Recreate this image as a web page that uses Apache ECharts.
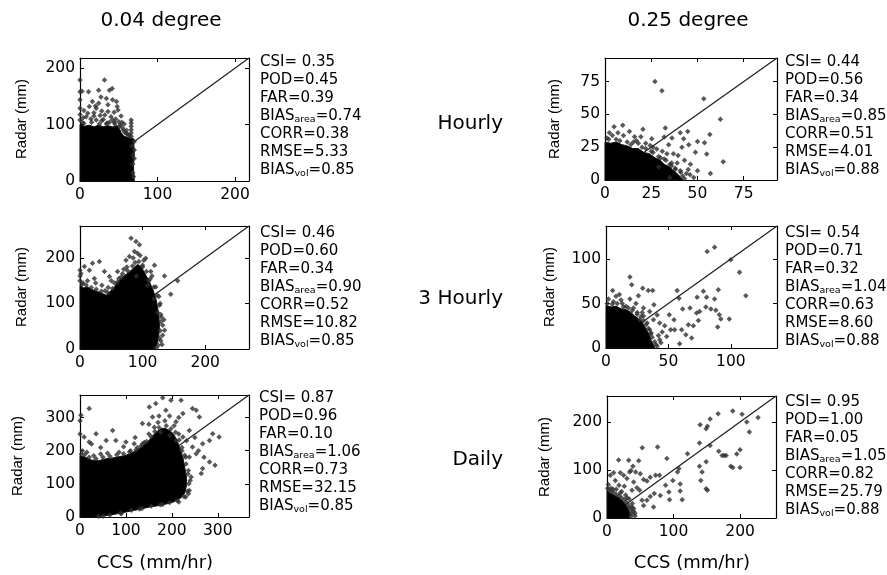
<!DOCTYPE html>
<html><head><meta charset="utf-8">
<script src="https://cdn.jsdelivr.net/npm/echarts@6/dist/echarts.min.js"></script>
<style>html,body{margin:0;padding:0;background:#fff}#c{width:887px;height:575px}</style>
</head><body><div id="c"></div><script>
// ---------- data ----------
const colTitles = ['0.04 degree', '0.25 degree'];
const rowLabels = ['Hourly', '3 Hourly', 'Daily'];
const yAxisTitle = 'Radar (mm)';
const xAxisTitle = 'CCS (mm/hr)';
const statNames = ['CSI', 'POD', 'FAR', 'BIAS_area', 'CORR', 'RMSE', 'BIAS_vol'];

const axisMax = [218, 93, 270, 137, 368, 254];
const tickStep = [100, 25, 100, 50, 100, 100];

const statsP1 = ['0.35', '0.45', '0.39', '0.74', '0.38', '5.33', '0.85'];
const statsP2 = ['0.44', '0.56', '0.34', '0.85', '0.51', '4.01', '0.88'];
const statsP3 = ['0.46', '0.60', '0.34', '0.90', '0.52', '10.82', '0.85'];
const statsP4 = ['0.54', '0.71', '0.32', '1.04', '0.63', '8.60', '0.88'];
const statsP5 = ['0.87', '0.96', '0.10', '1.06', '0.73', '32.15', '0.85'];
const statsP6 = ['0.95', '1.00', '0.05', '1.05', '0.82', '25.79', '0.88'];

// dense (saturated) clouds of points, outlined as [CCS, Radar]
const denseP1 = [[0,0],[0,100],[6,97],[12,99],[18,96],[24,99],[30,96],[36,98],[42,96],[48,98],[51,92],[53,86],[56,80],[60,78],[64,76],[69,75],[70,50],[69,25],[70,0]];
const denseP2 = [[0,0],[0,29],[3,28],[6,29],[9,27],[12,26],[15,24],[18,24],[21,21],[24,20],[27,17],[30,15],[32,12],[35,10],[37,7],[39,5],[41,2],[42,0]];
const denseP3 = [[0,0],[0,140],[6,134],[12,136],[20,130],[28,126],[36,122],[42,118],[48,126],[55,136],[62,150],[70,160],[78,168],[86,178],[92,186],[98,180],[104,165],[110,150],[116,132],[121,112],[124,92],[126,72],[127,52],[126,32],[124,14],[120,0]];
const denseP4 = [[0,0],[0,48],[4,46],[8,47],[12,44],[16,43],[20,40],[23,36],[26,33],[29,29],[31,24],[33,19],[35,14],[36,9],[38,4],[39,0]];
const denseP5 = [[0,0],[0,185],[12,180],[24,172],[40,170],[55,175],[70,178],[85,182],[100,186],[115,195],[129,206],[140,218],[151,232],[160,248],[168,258],[176,266],[184,268],[194,262],[204,250],[212,228],[218,205],[224,180],[228,150],[232,120],[232,95],[228,72],[220,58],[205,46],[190,40],[170,34],[151,30],[125,22],[100,15],[75,8],[50,3],[30,0]];
const denseP6 = [[0,0],[0,58],[4,52],[8,50],[12,46],[16,44],[20,40],[24,35],[28,28],[31,22],[33,15],[35,8],[34,0]];

// individual points [CCS, Radar]
const pointsP1 = [[0,179],[0,158],[0,144],[0,129],[0,118],[0,108],[2.6,159],[5,125],[8,114],[11,158],[12,132],[14,110],[16,141],[18,121],[20,133],[21,129],[21,108],[24,161],[26,116],[27,149],[28,124],[30,109],[31.6,179],[32,117],[34,146],[36,135],[38,161],[38,104],[40,114],[41.5,164],[42,144],[44,122],[46,110],[47,141],[49,126],[50,105],[51,97],[53,115],[55,94],[57,101],[58,86],[60,90],[62,82],[66,108],[66,103],[66,97],[66,91],[66,85],[66,79],[67,62],[68,46],[68,30],[68,14],[44,104],[36,123],[24,138],[10,120],[3,104],[48,132],[34,101],[5,102],[15,104],[25,101],[35,103],[45,101],[52,99],[56,90],[60,84],[64,80],[70,70],[70,55],[70,40],[69,8],[4,112],[28,107],[18,115],[42,108],[54,104]];
const pointsP2 = [[27,75],[30.8,68],[53.4,62],[62.4,46.4],[4.9,40.5],[9.6,41.8],[20.5,38.7],[32.6,39.7],[40.7,36],[44.7,37],[56.7,34.6],[19.4,33],[13.2,37],[10,34],[25.3,31.5],[32,32.8],[36.2,32],[42.5,31.5],[50,29.4],[45.3,26.8],[41.6,25],[53.8,28.4],[34.4,26.8],[48.9,21.2],[55,19.9],[39.5,18.6],[46.2,12.1],[63.9,13.9],[50,7],[57,4.9],[36,10.8],[40.7,7],[33.5,20],[28,23.7],[24.4,26.3],[15.4,28.9],[2.4,36],[1,32],[6,31],[12,29],[18,28],[22,24],[26,21],[30,17],[33,15],[36,13],[38,9],[42,3],[44,5],[29,10],[22,28],[7,36],[16,33],[37,20],[43,15],[48,2],[35,2],[2,31],[8,30],[14,27],[20,25],[25,22],[29,18],[32,16],[35,12],[38,8],[41,6],[43,1],[45,8],[26,25],[17,30],[4,34],[31,22],[39,13],[46,4]];
const pointsP3 = [[81.5,243],[89.5,236],[95,229],[87,214],[92,210],[73.5,195],[79,203],[105,199],[119,184],[135,160],[156,150],[145,120],[121,136],[20,188],[31,192],[7,181],[1.6,166],[39,170],[60,170],[47,159],[23,155],[15,173],[0,173],[0,160],[0,150],[132,52],[135,41],[132,30],[129,18],[130,70],[128,100],[126,115],[110,150],[100,180],[88,190],[75,180],[62,155],[55,145],[45,135],[35,140],[25,145],[12,150],[5,145],[70,175],[90,160],[108,140],[118,110],[124,80],[113,170],[85,200],[68,165],[40,128],[50,150],[96,205],[3,142],[10,140],[18,135],[26,131],[34,127],[44,124],[52,133],[60,147],[66,158],[76,172],[84,182],[94,192],[100,184],[106,170],[112,154],[118,136],[123,118],[127,96],[129,76],[129,60],[128,40],[127,24],[125,8],[122,3],[131,10],[134,64],[115,160],[102,195]];
const pointsP4 = [[81,108.5],[87,113],[100,99],[107,85],[112,58.7],[19.2,79.7],[20.6,71],[29.4,67],[33.9,64.7],[37.4,64.7],[57,64.7],[78,63.6],[90,65.5],[5.3,64.7],[10.7,60],[26,58.7],[19.2,55],[58.5,56],[73,57],[80.6,57],[87,55],[50.7,37.4],[54.5,31.8],[61.4,43.8],[67.3,44.9],[72.6,39.3],[75,41],[80,46],[84,43.8],[88,42.3],[90.8,37.4],[92,32.5],[98.8,32.5],[89.5,23.6],[74,31],[70,25],[66,26],[60.6,20.6],[64,15],[68.6,11.2],[55,20.6],[48.6,13],[43,28],[38,31.8],[35,41],[30,44.9],[38.4,48.6],[27,31.8],[51.8,20.6],[59,4.9],[43,9.4],[35,20.6],[2,55],[6,52],[13,50],[16,47],[22,45],[25,40],[30,36],[33,28],[36,16],[40,4],[45,18],[47,25],[41,37],[24,50],[1,50],[5,49],[9,50],[14,46],[18,45],[21,42],[25,38],[28,35],[30,31],[32,26],[34,22],[36,17],[37,12],[39,7],[41,2],[44,6],[42,14],[29,40],[12,54],[8,58]];
const pointsP5 = [[20,327],[2,307],[0,290],[0,250],[165,342],[180,360],[220,352],[224,312],[245,327],[253,322],[260,302],[209,287],[289,251],[303,241],[282,231],[267,221],[253,191],[282,166],[294,156],[267,146],[264,131],[242,121],[78,231],[100,226],[118,221],[136,221],[57,231],[35,251],[20,226],[9,241],[71,261],[136,282],[158,302],[151,332],[187,322],[198,352],[162,271],[176,256],[195,246],[209,231],[224,241],[238,261],[245,211],[238,181],[238,80],[230,60],[5,200],[15,195],[30,185],[45,190],[60,192],[85,195],[110,200],[125,210],[140,225],[150,250],[170,285],[185,290],[205,275],[215,250],[222,200],[230,180],[236,140],[240,110],[236,70],[215,45],[180,38],[130,24],[90,10],[50,2],[250,240],[258,200],[270,180],[232,230],[195,305],[215,300],[172,305],[150,280],[120,240],[95,212],[45,210],[25,220],[3,190],[10,188],[20,180],[35,176],[50,180],[65,183],[80,188],[95,191],[108,196],[122,203],[133,214],[145,228],[155,242],[163,258],[172,270],[188,275],[198,266],[208,256],[216,232],[222,210],[228,186],[231,160],[235,130],[237,100],[234,78],[226,62],[212,50],[195,44],[175,37],[155,33],[135,26],[112,20],[88,12],[65,6],[40,2]];
const pointsP6 = [[167,217],[155,206],[151,191],[149,186],[140,194],[189,223],[203,216],[210,200],[227,209],[214,179],[200,142],[195,133],[179,130],[176,130],[173,130],[168,139],[155,151],[139,156],[121,134],[149,117],[143,96],[141,78],[149,61],[151,58],[186,108],[189,105],[200,105],[139,108],[76,148],[53,146],[90,124],[108,103],[106,96],[110,71],[110,56],[113,38],[94,38],[93,54],[88,68],[99,78],[79,89],[73,89],[17.5,121],[32.6,120],[47.6,119],[39,108],[36,99],[43,96],[50,92],[55,80],[60,77],[65,85],[71,51],[80,47],[70,23],[55,26],[60,37],[65,45],[49,58],[40,75],[30,82],[25,89],[20,94],[10,94],[5,89],[12.5,78],[34,96],[45,63],[37.6,58],[52.6,37],[37.6,23],[2,70],[6,62],[14,60],[22,55],[28,48],[33,40],[38,30],[40,14],[42,4],[18,68],[26,66],[1,62],[3,58],[6,55],[10,53],[14,49],[18,46],[22,42],[26,38],[29,33],[32,27],[34,22],[36,15],[37,9],[36,3],[30,42],[20,52],[9,60],[40,20],[42,10]];

const denseList = [denseP1, denseP2, denseP3, denseP4, denseP5, denseP6];
const pointList = [pointsP1, pointsP2, pointsP3, pointsP4, pointsP5, pointsP6];
const statList = [statsP1, statsP2, statsP3, statsP4, statsP5, statsP6];

// ---------- layout ----------
const boxes = [
  {left: 80, top: 58, width: 169, height: 123},
  {left: 605, top: 58, width: 172, height: 122},
  {left: 80, top: 226, width: 169, height: 123},
  {left: 606, top: 226, width: 171, height: 122},
  {left: 80, top: 395, width: 169, height: 122},
  {left: 607, top: 396, width: 169, height: 122}
];
const statPos = [[260, 53], [785, 53], [260, 224], [785, 224], [259, 389], [785, 393]];
const yTitlePos = [[22, 119], [555, 119], [22, 287], [550, 287], [18, 456], [545, 457]];

const FONT = 'DejaVu Sans';
const grid = [], xAxis = [], yAxis = [], series = [], graphic = [];

boxes.forEach((b, i) => {
  grid.push(Object.assign({show: false, containLabel: false}, b));
  const M = axisMax[i], step = tickStep[i];
  const common = {
    type: 'value', min: 0, max: M, interval: step, gridIndex: i,
    splitLine: {show: false},
    axisLine: {show: true, onZero: false, lineStyle: {color: '#000', width: 1.2}},
    axisTick: {show: true, inside: true, length: 4, lineStyle: {color: '#000', width: 1}}
  };
  const lab = {show: true, color: '#000', fontFamily: FONT, fontSize: 15.5,
    formatter: v => (Math.abs(v % step) < 1e-9 ? String(v) : ''), showMaxLabel: false};
  xAxis.push(Object.assign({}, common, {position: 'bottom', axisLabel: Object.assign({}, lab, {margin: 6})}));
  xAxis.push(Object.assign({}, common, {position: 'top', axisLabel: {show: false}}));
  yAxis.push(Object.assign({}, common, {position: 'left', axisLabel: Object.assign({}, lab, {margin: 5})}));
  yAxis.push(Object.assign({}, common, {position: 'right', axisLabel: {show: false}}));

  series.push({
    type: 'line', xAxisIndex: 2 * i, yAxisIndex: 2 * i, data: [[0, 0], [M, M]],
    symbol: 'none', lineStyle: {color: '#222', width: 1.3}, z: 2, silent: true
  });
  const poly = denseList[i];
  series.push({
    type: 'custom', xAxisIndex: 2 * i, yAxisIndex: 2 * i, data: [[0, 0]], z: 3, silent: true,
    renderItem: (params, api) => ({
      type: 'polygon',
      shape: {points: poly.map(p => api.coord(p))},
      style: {fill: '#000', stroke: '#111', lineWidth: 1}
    })
  });
  series.push({
    type: 'scatter', xAxisIndex: 2 * i, yAxisIndex: 2 * i, data: pointList[i],
    symbol: 'diamond', symbolSize: 5.5, itemStyle: {color: '#2e2e2e'}, z: 4, silent: true
  });

  // stats block
  const s = statList[i];
  const lines = statNames.map((n, k) => {
    if (n === 'CSI') return '{m|CSI= ' + s[k] + '}';
    if (n.startsWith('BIAS_')) return '{m|BIAS}{s|' + n.slice(5) + '}{m|=' + s[k] + '}';
    return '{m|' + n + '=' + s[k] + '}';
  });
  graphic.push({
    type: 'text', x: statPos[i][0], y: statPos[i][1],
    style: {
      text: lines.join('\n'), align: 'left', textAlign: 'left', verticalAlign: 'top', textVerticalAlign: 'top',
      fill: '#000', font: '15px "' + FONT + '"',
      rich: {
        m: {fontFamily: FONT, fontSize: 15, lineHeight: 18, fill: '#000', color: '#000'},
        s: {fontFamily: FONT, fontSize: 9.5, lineHeight: 10, verticalAlign: 'bottom', fill: '#000', color: '#000'}
      }
    }
  });
  // y axis title
  graphic.push({
    type: 'text', x: yTitlePos[i][0], y: yTitlePos[i][1], rotation: Math.PI / 2,
    style: {text: yAxisTitle, align: 'center', textAlign: 'center', verticalAlign: 'middle', textVerticalAlign: 'middle',
      fill: '#000', font: '15px "Liberation Sans"'}
  });
});

// column titles
[[161, 21], [688, 21]].forEach((p, j) => graphic.push({
  type: 'text', x: p[0], y: p[1],
  style: {text: colTitles[j], align: 'center', textAlign: 'center', verticalAlign: 'middle', textVerticalAlign: 'middle',
    fill: '#000', font: '20px "' + FONT + '"'}
}));
// row labels
[124, 299, 460].forEach((y, j) => graphic.push({
  type: 'text', x: 503, y: y,
  style: {text: rowLabels[j], align: 'right', textAlign: 'right', verticalAlign: 'middle', textVerticalAlign: 'middle',
    fill: '#000', font: '20px "' + FONT + '"'}
}));
// x axis titles
[[155, 563], [692, 563]].forEach(p => graphic.push({
  type: 'text', x: p[0], y: p[1],
  style: {text: xAxisTitle, align: 'center', textAlign: 'center', verticalAlign: 'middle', textVerticalAlign: 'middle',
    fill: '#000', font: '18px "' + FONT + '"'}
}));

const chart = echarts.init(document.getElementById('c'), null, {renderer: 'canvas'});
chart.setOption({
  backgroundColor: '#fff', animation: false,
  grid, xAxis, yAxis, series, graphic
});
</script></body></html>
